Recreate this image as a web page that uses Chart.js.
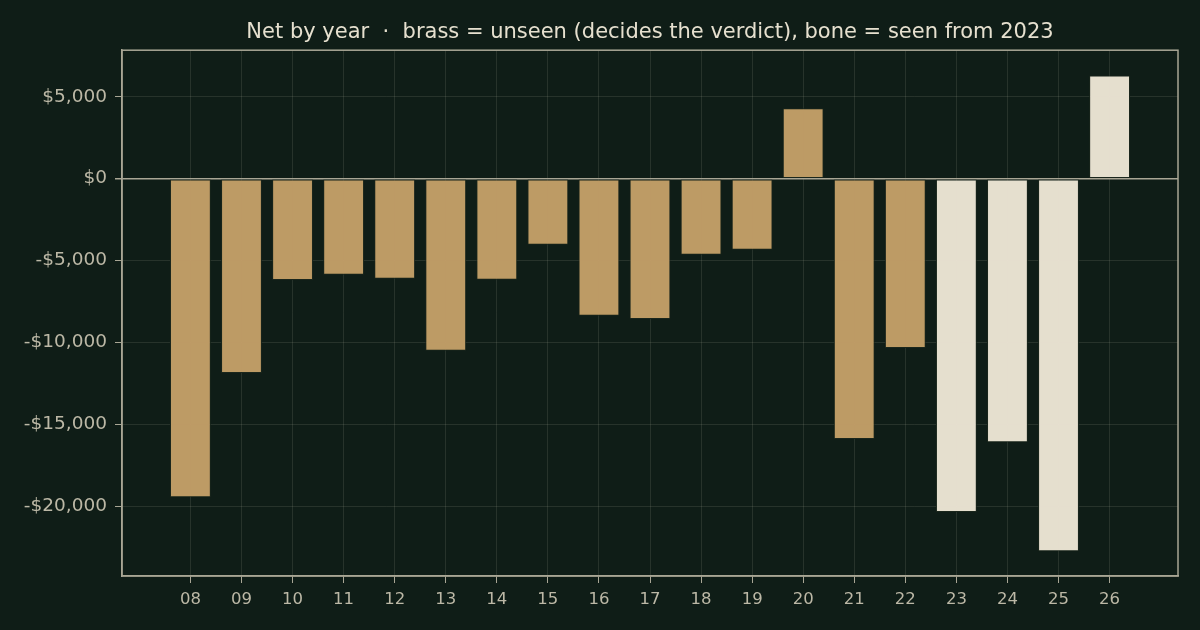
<!DOCTYPE html>
<html lang="en">
  <head>
    <meta charset="UTF-8" />
    <title>Net by year</title>
    <script src="https://cdn.jsdelivr.net/npm/chart.js"></script>
    <style>
      html,
      body {
        margin: 0;
        padding: 0;
        background: #0f1d17;
      }
      .chart-box {
        width: 1200px;
        height: 630px;
      }
    </style>
  </head>
  <body>
    <div class="chart-box">
      <canvas id="netChart"></canvas>
    </div>

    <script>
      // data
      var years = [
        2008, 2009, 2010, 2011, 2012, 2013, 2014, 2015, 2016, 2017, 2018,
        2019, 2020, 2021, 2022, 2023, 2024, 2025, 2026,
      ];
      var yearLabels = [
        "08", "09", "10", "11", "12", "13", "14", "15", "16", "17", "18",
        "19", "20", "21", "22", "23", "24", "25", "26",
      ];
      var net = [
        -19440, -11860, -6180, -5870, -6110, -10510, -6170, -4030, -8370,
        -8560, -4640, -4340, 4300, -15890, -10330, -20350, -16080, -22740,
        6290,
      ];
      var seenFrom = 2023;
      var yTicks = [5000, 0, -5000, -10000, -15000, -20000];

      var BRASS = "rgba(195, 159, 104, 0.97)";
      var BONE = "rgba(236, 229, 213, 0.97)";
      var FRAME = "#a9a695";
      var TICK_TEXT = "#bcb8a6";
      var GRID = "rgba(200, 200, 180, 0.13)";

      // top + right sides of the frame
      var framePlugin = {
        id: "frame",
        afterDraw: function (chart) {
          var a = chart.chartArea;
          var c = chart.ctx;
          c.save();
          c.strokeStyle = FRAME;
          c.lineWidth = 1.5;
          c.strokeRect(a.left, a.top, a.right - a.left, a.bottom - a.top);
          c.restore();
        },
      };

      var ctx = document.getElementById("netChart").getContext("2d");
      var netChart = new Chart(ctx, {
        type: "bar",
        data: {
          datasets: [
            {
              label: "Net",
              data: years.map(function (y, i) {
                return { x: y, y: net[i] };
              }),
              backgroundColor: years.map(function (y) {
                return y >= seenFrom ? BONE : BRASS;
              }),
              borderColor: "#1a261c",
              borderWidth: 1,
              borderSkipped: false,
              barPercentage: 0.8,
              categoryPercentage: 1,
            },
          ],
        },
        options: {
          responsive: true,
          maintainAspectRatio: false,
          animation: false,
          layout: { padding: { left: 0, right: 22, top: 0, bottom: 0 } },
          plugins: {
            legend: { display: false },
            tooltip: { enabled: false },
            title: {
              display: true,
              fullSize: false, // center over the plot, not the canvas
              text: "Net by year  \u00b7  brass = unseen (decides the verdict), bone = seen from 2023",
              color: "#e6e0cf",
              font: { family: "DejaVu Sans", size: 21, weight: "normal" },
              padding: { top: 20, bottom: 5 },
            },
          },
          scales: {
            x: {
              type: "linear",
              offset: false,
              min: 2006.66,
              max: 2027.34,
              afterBuildTicks: function (scale) {
                scale.ticks = years.map(function (y) {
                  return { value: y };
                });
              },
              afterFit: function (scale) {
                scale.height = 54;
              },
              ticks: {
                color: TICK_TEXT,
                font: { family: "DejaVu Sans", size: 16.5 },
                padding: 7,
                maxRotation: 0,
                autoSkip: false,
                callback: function (value, index) {
                  return yearLabels[index];
                },
              },
              grid: {
                offset: false,
                color: GRID,
                tickColor: FRAME,
                tickLength: 7,
                lineWidth: 1,
              },
              border: { color: FRAME, width: 1.5 },
            },
            y: {
              min: -24250,
              max: 7840,
              afterBuildTicks: function (scale) {
                scale.ticks = yTicks.map(function (v) {
                  return { value: v };
                });
              },
              afterFit: function (scale) {
                scale.width = 122;
              },
              ticks: {
                color: TICK_TEXT,
                font: { family: "DejaVu Sans", size: 18.5 },
                padding: 8,
                callback: function (value) {
                  var s = "$" + Math.abs(value).toLocaleString("en-US");
                  return value < 0 ? "-" + s : s;
                },
              },
              grid: {
                color: function (c) {
                  return c.tick && c.tick.value === 0 ? FRAME : GRID;
                },
                lineWidth: function (c) {
                  return c.tick && c.tick.value === 0 ? 1.5 : 1;
                },
                tickColor: FRAME,
                tickLength: 7,
              },
              border: { color: FRAME, width: 1.5 },
            },
          },
        },
        plugins: [framePlugin],
      });
    </script>
  </body>
</html>
